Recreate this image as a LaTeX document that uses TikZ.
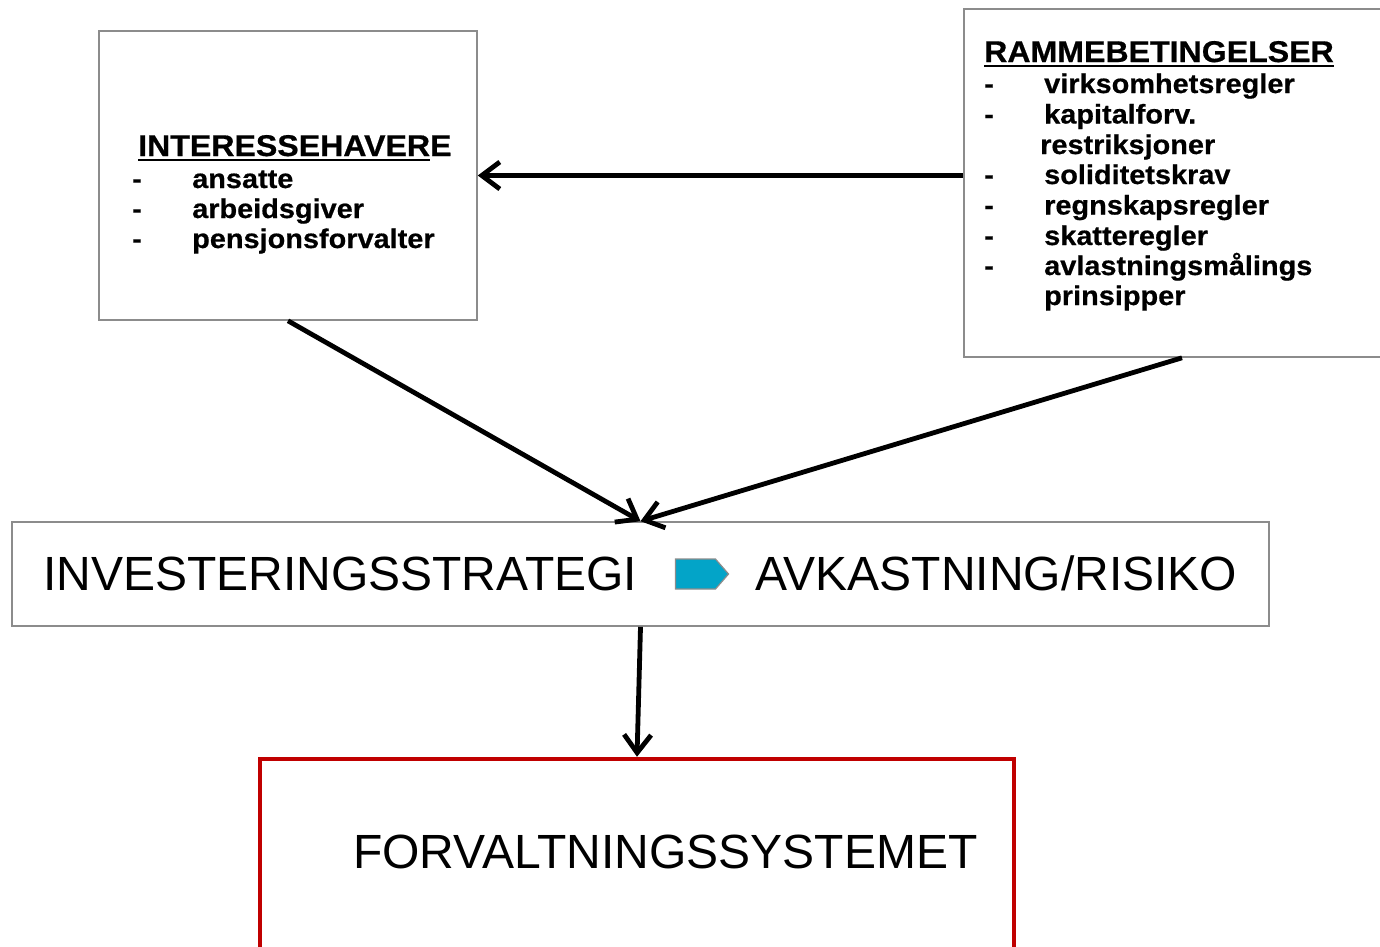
\documentclass[tikz,border=0pt]{standalone}
\usepackage{fontspec}
\setmainfont{Liberation Sans}
\newfontfamily\boxfont[FakeStretch=1.07,BoldFeatures={FakeBold=0.6}]{Liberation Sans}
\usetikzlibrary{arrows.meta,shapes.symbols}
\definecolor{frame}{RGB}{140,140,140}
\definecolor{sysred}{RGB}{192,0,0}
\definecolor{signalcyan}{RGB}{3,164,200}
% heavy underline for the panel headings
\newcommand\ulin[1]{\setbox0\hbox{#1}\rlap{\rule[-4.5pt]{\wd0}{1.8pt}}\box0}
\begin{document}
\begin{tikzpicture}[x=1pt,y=-1pt,
  panel/.style={draw=frame,line width=1.6pt,rectangle,inner sep=0pt},
  head/.style={anchor=base west,inner sep=0pt,font=\boxfont\bfseries\fontsize{30}{30}\selectfont},
  entry/.style={anchor=base west,inner sep=0pt,font=\boxfont\bfseries\fontsize{27}{30}\selectfont},
  big/.style={anchor=base west,inner sep=0pt,font=\fontsize{48}{50}\selectfont},
  flow/.style={line width=4.8pt,-{Straight Barb[length=18pt,width=27pt]}}]
\useasboundingbox (0,0) rectangle (1380,946);
\clip (0,0) rectangle (1380,946);

% boxes
\node[panel,minimum width=378pt,minimum height=289pt] (lb) at (288,175.5) {};
\node[panel,minimum width=436pt,minimum height=348pt] (rb) at (1182,183) {};
\node[panel,minimum width=1257pt,minimum height=104pt] (mb) at (640.5,574) {};
\node[draw=sysred,line width=4.5pt,rectangle,inner sep=0pt,
      minimum width=754pt,minimum height=300pt] (fb) at (637,909) {};

% stakeholders
\node[head] (lbh) at (138,156) {\ulin{INTERESSEHAVER}E};
\foreach \txt [count=\i] in {ansatte,arbeidsgiver,pensjonsforvalter} {
  \node[entry] (ld\i) at (132,{158+30*\i}) {-};
  \node[entry] (li\i) at (192,{158+30*\i}) {\txt};
}

% framework conditions
\node[head] (rbh) at (984,62) {\ulin{RAMMEBETINGELSER}};
\node[entry] (rd1) at (984,93) {-};    \node[entry] (ri1) at (1044,93) {virksomhetsregler};
\node[entry] (rd2) at (984,123.5) {-}; \node[entry] (ri2) at (1044,123.5) {kapitalforv.};
\node[entry] (ri3) at (1040,154) {restriksjoner};
\node[entry] (rd4) at (984,184) {-};   \node[entry] (ri4) at (1044,184) {soliditetskrav};
\node[entry] (rd5) at (984,214.5) {-}; \node[entry] (ri5) at (1044,214.5) {regnskapsregler};
\node[entry] (rd6) at (984,245) {-};   \node[entry] (ri6) at (1044,245) {skatteregler};
\node[entry] (rd7) at (984,275) {-};   \node[entry] (ri7) at (1044,275) {avlastningsmålings};
\node[entry] (ri8) at (1044,305) {prinsipper};

% strategy line
\node[big] (inv) at (43,590) {INVESTERINGSSTRATEGI};
\node[signal,signal to=east,signal pointer angle=98,fill=signalcyan,draw=frame,
      line width=1.2pt,inner sep=0pt,minimum width=53pt,minimum height=30pt] (sig) at (695.5,574) {};
\node[big] (avk) at (755,590) {AVKASTNING/RISIKO};

% management system
\node[big] (fs) at (353,868) {FORVALTNINGSSYSTEMET};

% connectors
\draw[flow] (rb.west |- lb.east) -- (lb.east);
\draw[flow] (lb.south) -- (mb.north);
\draw[flow] (rb.south) -- (mb.north);
\draw[flow] (mb.south) -- (fb.north);
\end{tikzpicture}
\end{document}
